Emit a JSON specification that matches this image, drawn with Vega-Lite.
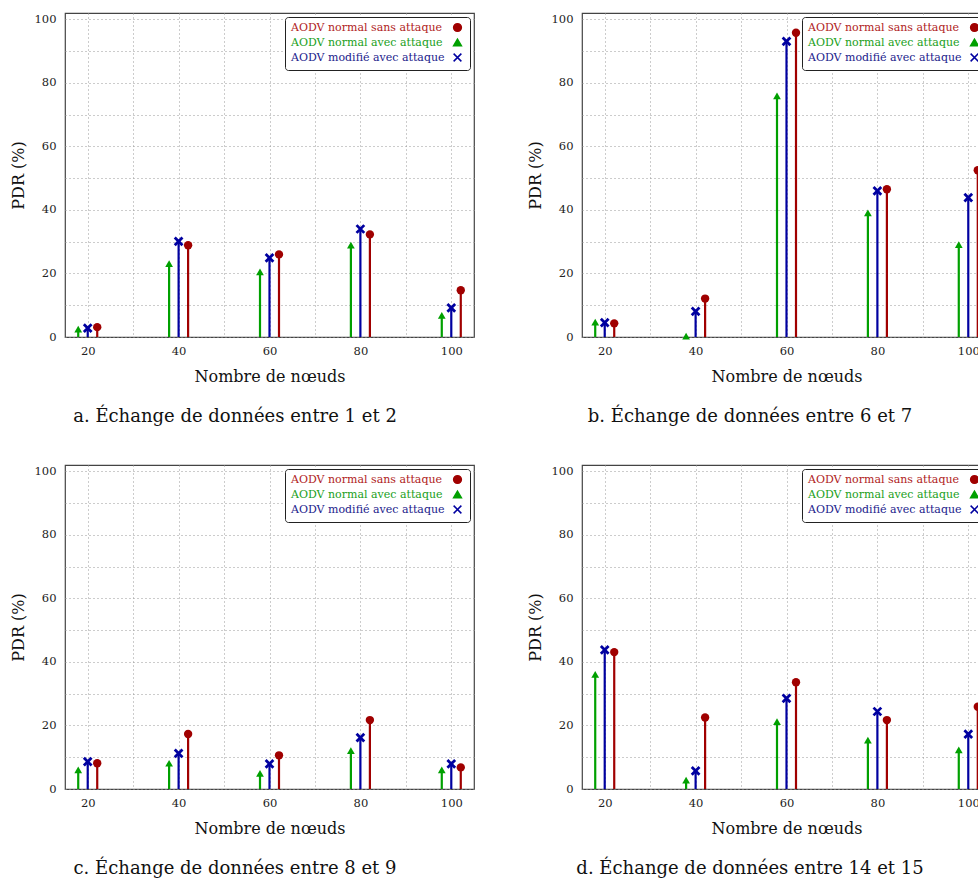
{
  "$schema": "https://vega.github.io/schema/vega-lite/v6.json",
  "background": "white",
  "padding": {"left": 9, "top": 12, "right": 0, "bottom": 0},
  "datasets": {
    "pdr": [
      {"panel": "a", "nodes": 20, "series": "AODV normal avec attaque", "pdr": 2.5},
      {"panel": "a", "nodes": 20, "series": "AODV modifié avec attaque", "pdr": 2.8},
      {"panel": "a", "nodes": 20, "series": "AODV normal sans attaque", "pdr": 3.1},
      {"panel": "a", "nodes": 40, "series": "AODV normal avec attaque", "pdr": 23.1},
      {"panel": "a", "nodes": 40, "series": "AODV modifié avec attaque", "pdr": 30.1},
      {"panel": "a", "nodes": 40, "series": "AODV normal sans attaque", "pdr": 28.9},
      {"panel": "a", "nodes": 60, "series": "AODV normal avec attaque", "pdr": 20.5},
      {"panel": "a", "nodes": 60, "series": "AODV modifié avec attaque", "pdr": 24.9},
      {"panel": "a", "nodes": 60, "series": "AODV normal sans attaque", "pdr": 26.0},
      {"panel": "a", "nodes": 80, "series": "AODV normal avec attaque", "pdr": 28.9},
      {"panel": "a", "nodes": 80, "series": "AODV modifié avec attaque", "pdr": 34.0},
      {"panel": "a", "nodes": 80, "series": "AODV normal sans attaque", "pdr": 32.3},
      {"panel": "a", "nodes": 100, "series": "AODV normal avec attaque", "pdr": 6.8},
      {"panel": "a", "nodes": 100, "series": "AODV modifié avec attaque", "pdr": 9.2},
      {"panel": "a", "nodes": 100, "series": "AODV normal sans attaque", "pdr": 14.7},
      {"panel": "b", "nodes": 20, "series": "AODV normal avec attaque", "pdr": 4.7},
      {"panel": "b", "nodes": 20, "series": "AODV modifié avec attaque", "pdr": 4.5},
      {"panel": "b", "nodes": 20, "series": "AODV normal sans attaque", "pdr": 4.3},
      {"panel": "b", "nodes": 40, "series": "AODV normal avec attaque", "pdr": 0.3},
      {"panel": "b", "nodes": 40, "series": "AODV modifié avec attaque", "pdr": 8.1},
      {"panel": "b", "nodes": 40, "series": "AODV normal sans attaque", "pdr": 12.1},
      {"panel": "b", "nodes": 60, "series": "AODV normal avec attaque", "pdr": 75.9},
      {"panel": "b", "nodes": 60, "series": "AODV modifié avec attaque", "pdr": 93.1},
      {"panel": "b", "nodes": 60, "series": "AODV normal sans attaque", "pdr": 95.8},
      {"panel": "b", "nodes": 80, "series": "AODV normal avec attaque", "pdr": 39.1},
      {"panel": "b", "nodes": 80, "series": "AODV modifié avec attaque", "pdr": 46.0},
      {"panel": "b", "nodes": 80, "series": "AODV normal sans attaque", "pdr": 46.5},
      {"panel": "b", "nodes": 100, "series": "AODV normal avec attaque", "pdr": 29.1},
      {"panel": "b", "nodes": 100, "series": "AODV modifié avec attaque", "pdr": 43.9},
      {"panel": "b", "nodes": 100, "series": "AODV normal sans attaque", "pdr": 52.5},
      {"panel": "c", "nodes": 20, "series": "AODV normal avec attaque", "pdr": 6.0},
      {"panel": "c", "nodes": 20, "series": "AODV modifié avec attaque", "pdr": 8.6},
      {"panel": "c", "nodes": 20, "series": "AODV normal sans attaque", "pdr": 8.1},
      {"panel": "c", "nodes": 40, "series": "AODV normal avec attaque", "pdr": 8.1},
      {"panel": "c", "nodes": 40, "series": "AODV modifié avec attaque", "pdr": 11.2},
      {"panel": "c", "nodes": 40, "series": "AODV normal sans attaque", "pdr": 17.3},
      {"panel": "c", "nodes": 60, "series": "AODV normal avec attaque", "pdr": 4.9},
      {"panel": "c", "nodes": 60, "series": "AODV modifié avec attaque", "pdr": 7.9},
      {"panel": "c", "nodes": 60, "series": "AODV normal sans attaque", "pdr": 10.6},
      {"panel": "c", "nodes": 80, "series": "AODV normal avec attaque", "pdr": 12.1},
      {"panel": "c", "nodes": 80, "series": "AODV modifié avec attaque", "pdr": 16.2},
      {"panel": "c", "nodes": 80, "series": "AODV normal sans attaque", "pdr": 21.7},
      {"panel": "c", "nodes": 100, "series": "AODV normal avec attaque", "pdr": 6.0},
      {"panel": "c", "nodes": 100, "series": "AODV modifié avec attaque", "pdr": 7.9},
      {"panel": "c", "nodes": 100, "series": "AODV normal sans attaque", "pdr": 6.8},
      {"panel": "d", "nodes": 20, "series": "AODV normal avec attaque", "pdr": 36.1},
      {"panel": "d", "nodes": 20, "series": "AODV modifié avec attaque", "pdr": 43.8},
      {"panel": "d", "nodes": 20, "series": "AODV normal sans attaque", "pdr": 43.1},
      {"panel": "d", "nodes": 40, "series": "AODV normal avec attaque", "pdr": 2.8},
      {"panel": "d", "nodes": 40, "series": "AODV modifié avec attaque", "pdr": 5.7},
      {"panel": "d", "nodes": 40, "series": "AODV normal sans attaque", "pdr": 22.5},
      {"panel": "d", "nodes": 60, "series": "AODV normal avec attaque", "pdr": 21.2},
      {"panel": "d", "nodes": 60, "series": "AODV modifié avec attaque", "pdr": 28.5},
      {"panel": "d", "nodes": 60, "series": "AODV normal sans attaque", "pdr": 33.6},
      {"panel": "d", "nodes": 80, "series": "AODV normal avec attaque", "pdr": 15.4},
      {"panel": "d", "nodes": 80, "series": "AODV modifié avec attaque", "pdr": 24.4},
      {"panel": "d", "nodes": 80, "series": "AODV normal sans attaque", "pdr": 21.7},
      {"panel": "d", "nodes": 100, "series": "AODV normal avec attaque", "pdr": 12.3},
      {"panel": "d", "nodes": 100, "series": "AODV modifié avec attaque", "pdr": 17.3},
      {"panel": "d", "nodes": 100, "series": "AODV normal sans attaque", "pdr": 25.9}
    ]
  },
  "data": {"name": "pdr"},
  "config": {
    "font": "DejaVu Serif",
    "view": {"stroke": "#444", "strokeWidth": 1.2},
    "axis": {
      "labelFont": "DejaVu Serif", "labelFontSize": 11.5, "labelColor": "#222",
      "titleFont": "DejaVu Serif", "titleFontSize": 16, "titleFontWeight": "normal", "titleColor": "#111",
      "gridColor": "#999", "gridDash": [1, 3], "gridWidth": 1, "gridOpacity": 1,
      "domain": false, "ticks": false
    },
    "axisX": {"labelPadding": 8, "titlePadding": 12},
    "axisY": {"labelPadding": 9, "titlePadding": 8},
    "legend": {
      "orient": "top-right", "offset": 4, "padding": 5, "rowPadding": 1,
      "strokeColor": "#222", "fillColor": "white", "cornerRadius": 3,
      "labelFont": "DejaVu Serif", "labelFontSize": 11, "labelLimit": 400, "symbolSize": 60
    },
    "title": {"font": "DejaVu Serif", "fontSize": 18, "fontWeight": "normal", "color": "#111", "orient": "bottom", "anchor": "middle", "frame": "bounds", "offset": 23}
  },
  "spacing": 37,
  "resolve": {"scale": {"color": "independent", "shape": "independent"}, "legend": {"color": "independent", "shape": "independent"}},
  "vconcat": [
    {
      "spacing": 51,
      "resolve": {"scale": {"color": "independent", "shape": "independent"}, "legend": {"color": "independent", "shape": "independent"}},
      "hconcat": [
        {
          "width": 409, "height": 324,
          "title": {"text": "a. Échange de données entre 1 et 2", "orient": "bottom", "frame": "bounds", "anchor": "middle", "dx": -7},
          "transform": [{"filter": "datum.panel === 'a'"}],
          "encoding": {
            "x": {"field": "nodes", "type": "quantitative", "scale": {"domain": [15, 105], "nice": false, "zero": false}, "axis": {"title": "Nombre de nœuds", "labelFont": "DejaVu Serif", "labelFontSize": 11.5, "values": [20, 30, 40, 50, 60, 70, 80, 90, 100], "labelExpr": "datum.value % 20 === 0 ? datum.label : ''"}},
            "y": {"field": "pdr", "type": "quantitative", "scale": {"domain": [0, 102], "nice": false}, "axis": {"title": "PDR (%)", "labelFont": "DejaVu Serif", "labelFontSize": 11.5, "values": [0, 10, 20, 30, 40, 50, 60, 70, 80, 90, 100], "labelExpr": "datum.value % 20 === 0 ? datum.label : ''"}}
          },
          "layer": [
            {"transform": [{"filter": "datum.series === 'AODV normal avec attaque'"}], "mark": {"type": "rule", "xOffset": -9.5, "strokeWidth": 2.2, "color": "#00a000"}, "encoding": {"y2": {"datum": 0}}},
            {"transform": [{"filter": "datum.series === 'AODV modifié avec attaque'"}], "mark": {"type": "rule", "xOffset": 0, "strokeWidth": 2.2, "color": "#0000a0"}, "encoding": {"y2": {"datum": 0}}},
            {"transform": [{"filter": "datum.series === 'AODV normal sans attaque'"}], "mark": {"type": "rule", "xOffset": 9.5, "strokeWidth": 2.2, "color": "#a00000"}, "encoding": {"y2": {"datum": 0}}},
            {"transform": [{"filter": "datum.series === 'AODV normal avec attaque'"}], "mark": {"type": "point", "filled": true, "opacity": 1, "xOffset": -9.5, "size": 60},
             "encoding": {
              "color": {"field": "series", "type": "nominal", "scale": {"domain": ["AODV normal sans attaque", "AODV normal avec attaque", "AODV modifié avec attaque"], "range": ["#a00000", "#00a000", "#0000a0"]}, "legend": {"title": null, "labelFont": "DejaVu Serif", "labelFontSize": 11, "labelLimit": 400, "symbolOffset": 162, "labelOffset": -172, "labelColor": {"expr": "datum.value === 'AODV normal sans attaque' ? '#b01c1c' : datum.value === 'AODV normal avec attaque' ? '#1aa01a' : '#1c1c8c'"}}},
              "shape": {"field": "series", "type": "nominal", "scale": {"domain": ["AODV normal sans attaque", "AODV normal avec attaque", "AODV modifié avec attaque"], "range": ["circle", "triangle-up", "M-1,-1L1,1M-1,1L1,-1"]}, "legend": {"title": null, "labelFont": "DejaVu Serif", "labelFontSize": 11, "labelLimit": 400, "symbolOffset": 162, "labelOffset": -172, "labelColor": {"expr": "datum.value === 'AODV normal sans attaque' ? '#b01c1c' : datum.value === 'AODV normal avec attaque' ? '#1aa01a' : '#1c1c8c'"}}}
            }},
            {"transform": [{"filter": "datum.series === 'AODV modifié avec attaque'"}], "mark": {"type": "point", "filled": false, "opacity": 1, "xOffset": 0, "size": 60, "strokeWidth": 2.8},
             "encoding": {"color": {"field": "series", "type": "nominal"}, "shape": {"field": "series", "type": "nominal"}}},
            {"transform": [{"filter": "datum.series === 'AODV normal sans attaque'"}], "mark": {"type": "point", "filled": true, "opacity": 1, "xOffset": 9.5, "size": 70},
             "encoding": {"color": {"field": "series", "type": "nominal"}, "shape": {"field": "series", "type": "nominal"}}}
          ]
        },
        {
          "width": 409, "height": 324,
          "title": {"text": "b. Échange de données entre 6 et 7", "orient": "bottom", "frame": "bounds", "anchor": "middle", "dx": -9},
          "transform": [{"filter": "datum.panel === 'b'"}],
          "encoding": {
            "x": {"field": "nodes", "type": "quantitative", "scale": {"domain": [15, 105], "nice": false, "zero": false}, "axis": {"title": "Nombre de nœuds", "labelFont": "DejaVu Serif", "labelFontSize": 11.5, "values": [20, 30, 40, 50, 60, 70, 80, 90, 100], "labelExpr": "datum.value % 20 === 0 ? datum.label : ''"}},
            "y": {"field": "pdr", "type": "quantitative", "scale": {"domain": [0, 102], "nice": false}, "axis": {"title": "PDR (%)", "labelFont": "DejaVu Serif", "labelFontSize": 11.5, "values": [0, 10, 20, 30, 40, 50, 60, 70, 80, 90, 100], "labelExpr": "datum.value % 20 === 0 ? datum.label : ''"}}
          },
          "layer": [
            {"transform": [{"filter": "datum.series === 'AODV normal avec attaque'"}], "mark": {"type": "rule", "xOffset": -9.5, "strokeWidth": 2.2, "color": "#00a000"}, "encoding": {"y2": {"datum": 0}}},
            {"transform": [{"filter": "datum.series === 'AODV modifié avec attaque'"}], "mark": {"type": "rule", "xOffset": 0, "strokeWidth": 2.2, "color": "#0000a0"}, "encoding": {"y2": {"datum": 0}}},
            {"transform": [{"filter": "datum.series === 'AODV normal sans attaque'"}], "mark": {"type": "rule", "xOffset": 9.5, "strokeWidth": 2.2, "color": "#a00000"}, "encoding": {"y2": {"datum": 0}}},
            {"transform": [{"filter": "datum.series === 'AODV normal avec attaque'"}], "mark": {"type": "point", "filled": true, "opacity": 1, "xOffset": -9.5, "size": 60},
             "encoding": {
              "color": {"field": "series", "type": "nominal", "scale": {"domain": ["AODV normal sans attaque", "AODV normal avec attaque", "AODV modifié avec attaque"], "range": ["#a00000", "#00a000", "#0000a0"]}, "legend": {"title": null, "labelFont": "DejaVu Serif", "labelFontSize": 11, "labelLimit": 400, "symbolOffset": 162, "labelOffset": -172, "labelColor": {"expr": "datum.value === 'AODV normal sans attaque' ? '#b01c1c' : datum.value === 'AODV normal avec attaque' ? '#1aa01a' : '#1c1c8c'"}}},
              "shape": {"field": "series", "type": "nominal", "scale": {"domain": ["AODV normal sans attaque", "AODV normal avec attaque", "AODV modifié avec attaque"], "range": ["circle", "triangle-up", "M-1,-1L1,1M-1,1L1,-1"]}, "legend": {"title": null, "labelFont": "DejaVu Serif", "labelFontSize": 11, "labelLimit": 400, "symbolOffset": 162, "labelOffset": -172, "labelColor": {"expr": "datum.value === 'AODV normal sans attaque' ? '#b01c1c' : datum.value === 'AODV normal avec attaque' ? '#1aa01a' : '#1c1c8c'"}}}
            }},
            {"transform": [{"filter": "datum.series === 'AODV modifié avec attaque'"}], "mark": {"type": "point", "filled": false, "opacity": 1, "xOffset": 0, "size": 60, "strokeWidth": 2.8},
             "encoding": {"color": {"field": "series", "type": "nominal"}, "shape": {"field": "series", "type": "nominal"}}},
            {"transform": [{"filter": "datum.series === 'AODV normal sans attaque'"}], "mark": {"type": "point", "filled": true, "opacity": 1, "xOffset": 9.5, "size": 70},
             "encoding": {"color": {"field": "series", "type": "nominal"}, "shape": {"field": "series", "type": "nominal"}}}
          ]
        }
      ]
    },
    {
      "spacing": 51,
      "resolve": {"scale": {"color": "independent", "shape": "independent"}, "legend": {"color": "independent", "shape": "independent"}},
      "hconcat": [
        {
          "width": 409, "height": 324,
          "title": {"text": "c. Échange de données entre 8 et 9", "orient": "bottom", "frame": "bounds", "anchor": "middle", "dx": -7},
          "transform": [{"filter": "datum.panel === 'c'"}],
          "encoding": {
            "x": {"field": "nodes", "type": "quantitative", "scale": {"domain": [15, 105], "nice": false, "zero": false}, "axis": {"title": "Nombre de nœuds", "labelFont": "DejaVu Serif", "labelFontSize": 11.5, "values": [20, 30, 40, 50, 60, 70, 80, 90, 100], "labelExpr": "datum.value % 20 === 0 ? datum.label : ''"}},
            "y": {"field": "pdr", "type": "quantitative", "scale": {"domain": [0, 102], "nice": false}, "axis": {"title": "PDR (%)", "labelFont": "DejaVu Serif", "labelFontSize": 11.5, "values": [0, 10, 20, 30, 40, 50, 60, 70, 80, 90, 100], "labelExpr": "datum.value % 20 === 0 ? datum.label : ''"}}
          },
          "layer": [
            {"transform": [{"filter": "datum.series === 'AODV normal avec attaque'"}], "mark": {"type": "rule", "xOffset": -9.5, "strokeWidth": 2.2, "color": "#00a000"}, "encoding": {"y2": {"datum": 0}}},
            {"transform": [{"filter": "datum.series === 'AODV modifié avec attaque'"}], "mark": {"type": "rule", "xOffset": 0, "strokeWidth": 2.2, "color": "#0000a0"}, "encoding": {"y2": {"datum": 0}}},
            {"transform": [{"filter": "datum.series === 'AODV normal sans attaque'"}], "mark": {"type": "rule", "xOffset": 9.5, "strokeWidth": 2.2, "color": "#a00000"}, "encoding": {"y2": {"datum": 0}}},
            {"transform": [{"filter": "datum.series === 'AODV normal avec attaque'"}], "mark": {"type": "point", "filled": true, "opacity": 1, "xOffset": -9.5, "size": 60},
             "encoding": {
              "color": {"field": "series", "type": "nominal", "scale": {"domain": ["AODV normal sans attaque", "AODV normal avec attaque", "AODV modifié avec attaque"], "range": ["#a00000", "#00a000", "#0000a0"]}, "legend": {"title": null, "labelFont": "DejaVu Serif", "labelFontSize": 11, "labelLimit": 400, "symbolOffset": 162, "labelOffset": -172, "labelColor": {"expr": "datum.value === 'AODV normal sans attaque' ? '#b01c1c' : datum.value === 'AODV normal avec attaque' ? '#1aa01a' : '#1c1c8c'"}}},
              "shape": {"field": "series", "type": "nominal", "scale": {"domain": ["AODV normal sans attaque", "AODV normal avec attaque", "AODV modifié avec attaque"], "range": ["circle", "triangle-up", "M-1,-1L1,1M-1,1L1,-1"]}, "legend": {"title": null, "labelFont": "DejaVu Serif", "labelFontSize": 11, "labelLimit": 400, "symbolOffset": 162, "labelOffset": -172, "labelColor": {"expr": "datum.value === 'AODV normal sans attaque' ? '#b01c1c' : datum.value === 'AODV normal avec attaque' ? '#1aa01a' : '#1c1c8c'"}}}
            }},
            {"transform": [{"filter": "datum.series === 'AODV modifié avec attaque'"}], "mark": {"type": "point", "filled": false, "opacity": 1, "xOffset": 0, "size": 60, "strokeWidth": 2.8},
             "encoding": {"color": {"field": "series", "type": "nominal"}, "shape": {"field": "series", "type": "nominal"}}},
            {"transform": [{"filter": "datum.series === 'AODV normal sans attaque'"}], "mark": {"type": "point", "filled": true, "opacity": 1, "xOffset": 9.5, "size": 70},
             "encoding": {"color": {"field": "series", "type": "nominal"}, "shape": {"field": "series", "type": "nominal"}}}
          ]
        },
        {
          "width": 409, "height": 324,
          "title": {"text": "d. Échange de données entre 14 et 15", "orient": "bottom", "frame": "bounds", "anchor": "middle", "dx": -9},
          "transform": [{"filter": "datum.panel === 'd'"}],
          "encoding": {
            "x": {"field": "nodes", "type": "quantitative", "scale": {"domain": [15, 105], "nice": false, "zero": false}, "axis": {"title": "Nombre de nœuds", "labelFont": "DejaVu Serif", "labelFontSize": 11.5, "values": [20, 30, 40, 50, 60, 70, 80, 90, 100], "labelExpr": "datum.value % 20 === 0 ? datum.label : ''"}},
            "y": {"field": "pdr", "type": "quantitative", "scale": {"domain": [0, 102], "nice": false}, "axis": {"title": "PDR (%)", "labelFont": "DejaVu Serif", "labelFontSize": 11.5, "values": [0, 10, 20, 30, 40, 50, 60, 70, 80, 90, 100], "labelExpr": "datum.value % 20 === 0 ? datum.label : ''"}}
          },
          "layer": [
            {"transform": [{"filter": "datum.series === 'AODV normal avec attaque'"}], "mark": {"type": "rule", "xOffset": -9.5, "strokeWidth": 2.2, "color": "#00a000"}, "encoding": {"y2": {"datum": 0}}},
            {"transform": [{"filter": "datum.series === 'AODV modifié avec attaque'"}], "mark": {"type": "rule", "xOffset": 0, "strokeWidth": 2.2, "color": "#0000a0"}, "encoding": {"y2": {"datum": 0}}},
            {"transform": [{"filter": "datum.series === 'AODV normal sans attaque'"}], "mark": {"type": "rule", "xOffset": 9.5, "strokeWidth": 2.2, "color": "#a00000"}, "encoding": {"y2": {"datum": 0}}},
            {"transform": [{"filter": "datum.series === 'AODV normal avec attaque'"}], "mark": {"type": "point", "filled": true, "opacity": 1, "xOffset": -9.5, "size": 60},
             "encoding": {
              "color": {"field": "series", "type": "nominal", "scale": {"domain": ["AODV normal sans attaque", "AODV normal avec attaque", "AODV modifié avec attaque"], "range": ["#a00000", "#00a000", "#0000a0"]}, "legend": {"title": null, "labelFont": "DejaVu Serif", "labelFontSize": 11, "labelLimit": 400, "symbolOffset": 162, "labelOffset": -172, "labelColor": {"expr": "datum.value === 'AODV normal sans attaque' ? '#b01c1c' : datum.value === 'AODV normal avec attaque' ? '#1aa01a' : '#1c1c8c'"}}},
              "shape": {"field": "series", "type": "nominal", "scale": {"domain": ["AODV normal sans attaque", "AODV normal avec attaque", "AODV modifié avec attaque"], "range": ["circle", "triangle-up", "M-1,-1L1,1M-1,1L1,-1"]}, "legend": {"title": null, "labelFont": "DejaVu Serif", "labelFontSize": 11, "labelLimit": 400, "symbolOffset": 162, "labelOffset": -172, "labelColor": {"expr": "datum.value === 'AODV normal sans attaque' ? '#b01c1c' : datum.value === 'AODV normal avec attaque' ? '#1aa01a' : '#1c1c8c'"}}}
            }},
            {"transform": [{"filter": "datum.series === 'AODV modifié avec attaque'"}], "mark": {"type": "point", "filled": false, "opacity": 1, "xOffset": 0, "size": 60, "strokeWidth": 2.8},
             "encoding": {"color": {"field": "series", "type": "nominal"}, "shape": {"field": "series", "type": "nominal"}}},
            {"transform": [{"filter": "datum.series === 'AODV normal sans attaque'"}], "mark": {"type": "point", "filled": true, "opacity": 1, "xOffset": 9.5, "size": 70},
             "encoding": {"color": {"field": "series", "type": "nominal"}, "shape": {"field": "series", "type": "nominal"}}}
          ]
        }
      ]
    }
  ]
}
